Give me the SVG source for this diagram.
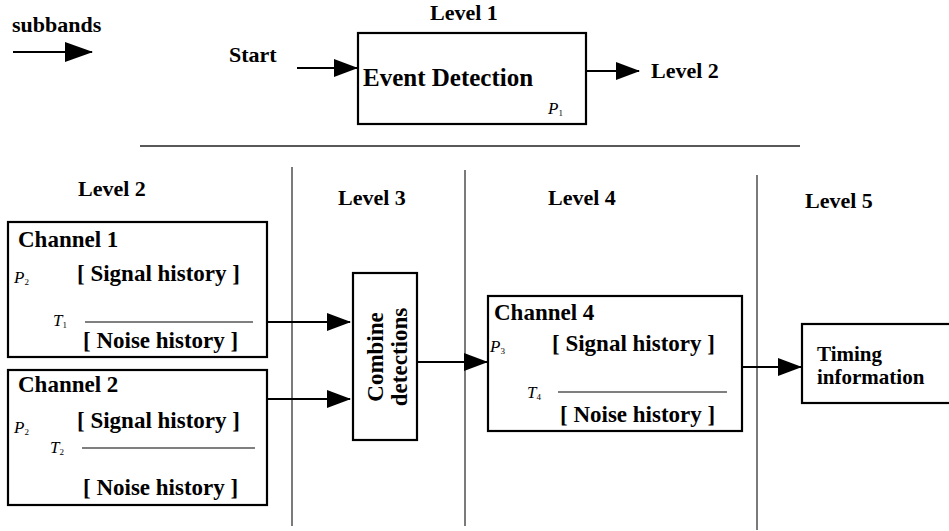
<svg xmlns="http://www.w3.org/2000/svg" width="949" height="531" viewBox="0 0 949 531">
<style>
text{font-family:"Liberation Serif","Times New Roman",Tinos,"DejaVu Serif",serif;font-weight:bold;font-size:22px;fill:#000}
.ch{font-size:23px}
.it{font-style:italic;font-weight:normal;font-size:17px}
.sub{font-style:normal;font-weight:normal;font-size:9px}
.box{fill:#fff;stroke:#000;stroke-width:2.2}
.sep{stroke:#222;stroke-width:1.2;fill:none}
.conn{stroke:#000;stroke-width:2;fill:none;marker-end:url(#ah)}
.rule{stroke:#000;stroke-width:1.2}
</style>
<defs>
<marker id="ah" markerUnits="userSpaceOnUse" markerWidth="24" markerHeight="18" refX="23" refY="9" orient="auto">
<path d="M0,0 L24,9 L0,18 z" fill="#000"/>
</marker>
<marker id="ahL" markerUnits="userSpaceOnUse" markerWidth="28" markerHeight="20" refX="27" refY="10" orient="auto">
<path d="M0,0 L28,10 L0,20 z" fill="#000"/>
</marker>
</defs>
<rect width="949" height="531" fill="#fff"/>

<g id="separators">
<line class="sep" x1="140" y1="146" x2="800" y2="146" style="stroke-width:1.6"/>
<line class="sep" x1="292" y1="167" x2="292" y2="526"/>
<line class="sep" x1="465" y1="170" x2="465" y2="526"/>
<line class="sep" x1="757" y1="175" x2="757" y2="530"/>
</g>

<g id="labels">
<text x="12" y="32">subbands</text>
<text x="430" y="20">Level 1</text>
<text x="229" y="62">Start</text>
<text x="651" y="78">Level 2</text>
<text x="78" y="196">Level 2</text>
<text x="338" y="205">Level 3</text>
<text x="548" y="205">Level 4</text>
<text x="805" y="208">Level 5</text>
</g>

<g id="event-detection">
<rect class="box" x="358" y="33" width="228" height="91"/>
<text x="363" y="86" style="font-size:25px">Event Detection</text>
<text class="it" x="548" y="114">P<tspan class="sub" dy="2">1</tspan></text>
</g>

<g id="channel1">
<rect class="box" x="8" y="222" width="259" height="135"/>
<text class="ch" x="18" y="247">Channel 1</text>
<text class="it" x="14" y="283">P<tspan class="sub" dy="2">2</tspan></text>
<text class="ch" x="77" y="281">[ Signal history ]</text>
<text class="it" x="53" y="326">T<tspan class="sub" dy="2">1</tspan></text>
<line class="rule" x1="85" y1="322" x2="253" y2="322"/>
<text class="ch" x="83" y="348">[ Noise history ]</text>
</g>

<g id="channel2">
<rect class="box" x="8" y="370" width="259" height="135"/>
<text class="ch" x="18" y="392">Channel 2</text>
<text class="it" x="14" y="433">P<tspan class="sub" dy="2">2</tspan></text>
<text class="ch" x="77" y="428">[ Signal history ]</text>
<text class="it" x="50" y="453">T<tspan class="sub" dy="2">2</tspan></text>
<line class="rule" x1="82" y1="448" x2="255" y2="448"/>
<text class="ch" x="83" y="495">[ Noise history ]</text>
</g>

<g id="combine">
<rect class="box" x="353" y="273" width="64" height="167"/>
<text class="ch" transform="translate(383,357) rotate(-90)" text-anchor="middle">Combine</text>
<text class="ch" transform="translate(407,357) rotate(-90)" text-anchor="middle">detections</text>
</g>

<g id="channel4">
<rect class="box" x="488" y="296" width="254" height="135"/>
<text class="ch" x="494" y="320">Channel 4</text>
<text class="it" x="490" y="352">P<tspan class="sub" dy="2">3</tspan></text>
<text class="ch" x="552" y="351">[ Signal history ]</text>
<text class="it" x="527" y="398">T<tspan class="sub" dy="2">4</tspan></text>
<line class="rule" x1="558" y1="392" x2="727" y2="392"/>
<text class="ch" x="560" y="422">[ Noise history ]</text>
</g>

<g id="timing">
<rect class="box" x="802" y="324" width="160" height="79"/>
<text x="817" y="361" style="font-size:21px">Timing</text>
<text x="817" y="384" style="font-size:21px">information</text>
</g>

<g id="connectors">
<line class="conn" x1="13" y1="52" x2="92" y2="52" style="stroke-width:2.2;marker-end:url(#ahL)"/>
<line class="conn" x1="297" y1="68" x2="357" y2="68"/>
<line class="conn" x1="587" y1="71" x2="639" y2="71"/>
<line class="conn" x1="267" y1="322" x2="350" y2="322"/>
<line class="conn" x1="267" y1="399" x2="350" y2="399"/>
<line class="conn" x1="417" y1="362" x2="487" y2="362"/>
<line class="conn" x1="742" y1="367" x2="801" y2="367"/>
</g>
</svg>
